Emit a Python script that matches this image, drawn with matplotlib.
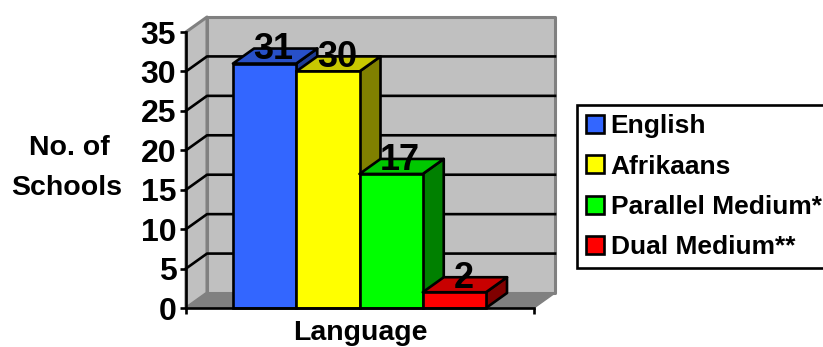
import matplotlib.pyplot as plt
from matplotlib.patches import Polygon

plt.rcParams['font.family'] = ['Liberation Sans']
plt.rcParams['font.weight'] = 'bold'

# data
languages = ["English", "Afrikaans", "Parallel Medium*", "Dual Medium**"]
schools = [31, 30, 17, 2]
y_ticks = [0, 5, 10, 15, 20, 25, 30, 35]

front_colors = ['#3366ff', '#ffff00', '#00ff00', '#ff0000']
top_colors = ['#2850c8', '#c8c800', '#00c800', '#c80000']
side_colors = ['#1e3c96', '#808000', '#008000', '#800000']

W, H = 823, 347
fig = plt.figure(figsize=(W / 100, H / 100), dpi=100)
# front plane of the 3d box, in pixels
left, right, bottom, top = 186, 534, 308, 32
ax = fig.add_axes([left / W, 1 - bottom / H, (right - left) / W, (bottom - top) / H])
ax.patch.set_alpha(0)

px = 63.25  # pixels per bar
xmin = -0.5 - 47 / px
xmax = xmin + (right - left) / px
ymax = 35
ax.set_xlim(xmin, xmax)
ax.set_ylim(0, ymax)

# depth of the box and of the bars, in data units
dx = 21 / px
dy = 15 / ((bottom - top) / ymax)


def poly(points, fc, ec, lw, z):
    ax.add_patch(Polygon(points, closed=True, facecolor=fc, edgecolor=ec, linewidth=lw,
                         zorder=z, clip_on=False, joinstyle='round'))


# walls and floor
poly([(xmin + dx, dy), (xmax + dx, dy), (xmax + dx, ymax + dy), (xmin + dx, ymax + dy)],
     '#c0c0c0', '#808080', 2.2, 1)
poly([(xmin, 0), (xmin + dx, dy), (xmin + dx, ymax + dy), (xmin, ymax)], '#c0c0c0', '#808080', 2.2, 1)
poly([(xmin, 0), (xmax, 0), (xmax + dx, dy), (xmin + dx, dy)], '#808080', '#808080', 1, 1)

# gridlines
for t in y_ticks[1:-1]:
    ax.plot([xmin, xmin + dx, xmax + dx], [t, t + dy, t + dy], color='black', lw=1.9,
            zorder=2, clip_on=False)

# bars, each one in front of the bar to its left
for i, v in enumerate(schools):
    x0 = i - 0.5
    x1 = i + 0.5
    z = 3 + i
    poly([(x1, 0), (x1 + dx, dy), (x1 + dx, v + dy), (x1, v)], side_colors[i], 'black', 1.9, z)
    poly([(x0, v), (x1, v), (x1 + dx, v + dy), (x0 + dx, v + dy)], top_colors[i], 'black', 1.9, z)
    ax.bar(i, v, width=1, color=front_colors[i], edgecolor='black', linewidth=1.9,
           zorder=z, label=languages[i], clip_on=False)

# value labels
for i, v in enumerate(schools):
    ax.annotate(str(v), (i, v), xytext=(6.5, 3), textcoords='offset points', ha='center',
                va='baseline', fontsize=26, zorder=20, annotation_clip=False)

for s in ['top', 'right']:
    ax.spines[s].set_visible(False)
for s in ['left', 'bottom']:
    ax.spines[s].set_linewidth(1.9)
    ax.spines[s].set_zorder(15)
ax.set_yticks(y_ticks)
ax.set_xticks([xmin, xmax])
ax.set_xticklabels([])
ax.tick_params(axis='both', width=1.9, length=4)
ax.tick_params(axis='y', labelsize=23, pad=3)

fig.text(360 / W, 1 - 340 / H, "Language", ha='center', va='baseline', fontsize=20.5)
fig.text(69 / W, 1 - 155 / H, "No. of", ha='center', va='baseline', fontsize=20.5)
fig.text(67 / W, 1 - 195 / H, "Schools", ha='center', va='baseline', fontsize=20.5)

handles, labels = ax.get_legend_handles_labels()
leg = fig.legend(handles, labels,
                 loc='lower left', bbox_to_anchor=(577 / W, 1 - 268 / H), bbox_transform=fig.transFigure,
                 fontsize=19, frameon=True, fancybox=False, framealpha=1, edgecolor='black',
                 handlelength=0.68, handleheight=0.68, handletextpad=0.26,
                 labelspacing=0.62, borderpad=0.33, borderaxespad=0)
leg.get_frame().set_linewidth(1.9)

fig.savefig('out.png', dpi=100)
